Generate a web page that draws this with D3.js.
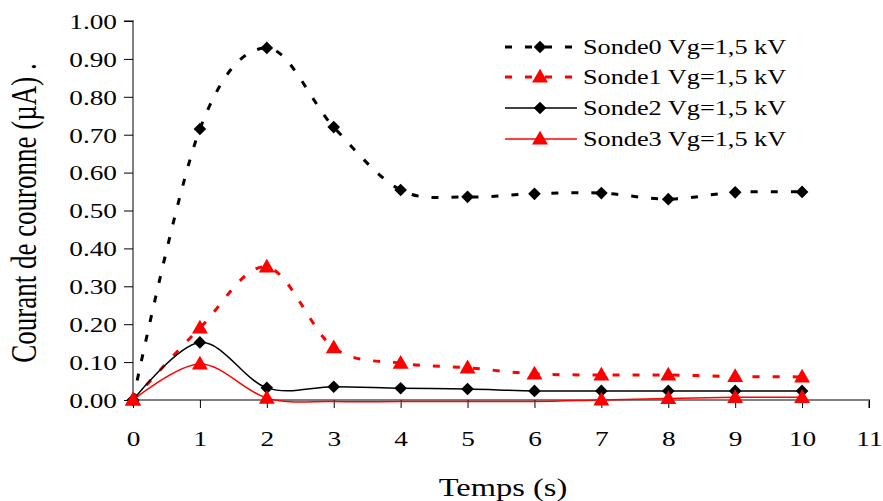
<!DOCTYPE html>
<html>
<head>
<meta charset="utf-8">
<script src="https://cdn.jsdelivr.net/npm/d3@7"></script>
<style>
  html, body { margin: 0; padding: 0; background: #fff; }
  svg { display: block; }
  text { font-family: "Liberation Serif", "Times New Roman", serif; fill: #000; }
</style>
</head>
<body>
<svg id="chart" width="883" height="501"></svg>
<script>
// Time axis (s)
const times = [0, 1, 2, 3, 4, 5, 6, 7, 8, 9, 10];

// Corona current (µA) for each probe
const sonde0 = [0.000, 0.715, 0.929, 0.720, 0.554, 0.536, 0.544, 0.546, 0.530, 0.548, 0.549];
const sonde1 = [0.000, 0.190, 0.351, 0.138, 0.097, 0.085, 0.069, 0.066, 0.066, 0.062, 0.061];
const sonde2 = [0.000, 0.152, 0.032, 0.035, 0.031, 0.029, 0.024, 0.024, 0.024, 0.024, 0.024];
const sonde3 = [0.000, 0.095, 0.005, -0.004, -0.004, -0.004, -0.004, 0.000, 0.004, 0.007, 0.007];

const seriesNames = ["Sonde0 Vg=1,5 kV", "Sonde1 Vg=1,5 kV", "Sonde2 Vg=1,5 kV", "Sonde3 Vg=1,5 kV"];

const xTicks = [0, 1, 2, 3, 4, 5, 6, 7, 8, 9, 10, 11];
const yTicks = [0, 0.1, 0.2, 0.3, 0.4, 0.5, 0.6, 0.7, 0.8, 0.9, 1.0];

const xTitle = "Temps (s)";
const yTitle = "Courant de couronne (µA) .";

const series = [
  { name: seriesNames[0], values: sonde0, color: "#000", dash: "7,13", width: 3, marker: "diamond" },
  { name: seriesNames[1], values: sonde1, color: "#ff0000", dash: "7,13", width: 3, marker: "triangle" },
  { name: seriesNames[2], values: sonde2, color: "#000", dash: null, width: 1.5, marker: "diamond" },
  { name: seriesNames[3], values: sonde3, color: "#ff0000", dash: null, width: 1.5, marker: "triangle" }
];

// The typeface is drawn wide: stretch each label horizontally around its anchor
const TEXT_STRETCH = 1.3;
function stretch(sel, sx, sy) {
  sel.each(function () {
    const t = d3.select(this);
    const tx = +t.attr("x") || 0;
    const ty = +t.attr("y") || 0;
    t.attr("transform", `translate(${tx},${ty}) scale(${sx},${sy}) translate(${-tx},${-ty})`);
  });
}

const svg = d3.select("#chart");

const plot = { left: 133, right: 869, top: 21, bottom: 400 };

const x = d3.scaleLinear().domain([0, 11]).range([plot.left, plot.right]);
const y = d3.scaleLinear().domain([0, 1]).range([plot.bottom, plot.top]);

// Axes
const yAxis = svg.append("g")
  .attr("transform", `translate(${plot.left},0)`)
  .call(d3.axisLeft(y).tickValues(yTicks).tickFormat(d3.format(".2f")).tickSize(9).tickPadding(7));
yAxis.select(".domain").attr("stroke", "#808080").attr("stroke-width", 2).attr("d", `M0,${plot.bottom}V${plot.top}H-9`);
yAxis.selectAll(".tick line").attr("stroke", "#000");
yAxis.selectAll(".tick text")
  .style("font-family", "'Liberation Serif', serif")
  .style("font-size", "21px")
  .attr("dy", "0.35em")
  .call(stretch, TEXT_STRETCH, 1);

const xAxis = svg.append("g")
  .attr("transform", `translate(0,${plot.bottom})`)
  .call(d3.axisBottom(x).tickValues(xTicks).tickFormat(d3.format("d")).tickSize(8).tickPadding(23));
xAxis.select(".domain").attr("stroke", "#808080").attr("stroke-width", 2).attr("d", `M${plot.left},0H${plot.right}V8`);
xAxis.selectAll(".tick line").attr("stroke", "#000");
xAxis.selectAll(".tick text")
  .style("font-family", "'Liberation Serif', serif")
  .style("font-size", "21px")
  .call(stretch, TEXT_STRETCH, 1);

// Axis titles
svg.append("text")
  .attr("x", 503).attr("y", 496)
  .attr("text-anchor", "middle")
  .style("font-size", "25px")
  .text(xTitle)
  .call(stretch, TEXT_STRETCH, 1);

svg.append("text")
  .attr("transform", `translate(36,213) rotate(-90) scale(1,${TEXT_STRETCH})`)
  .attr("text-anchor", "middle")
  .style("font-size", "27px")
  .text(yTitle);

// Smoothed lines
const line = d3.line()
  .x((d, i) => x(times[i]))
  .y(d => y(d))
  .curve(d3.curveCardinal.tension(0));

const diamond = d3.symbol().type(d3.symbolSquare).size(80);
const triangle = d3.symbol().type(d3.symbolTriangle).size(110);

function drawMarker(g, type, color, cx, cy) {
  if (type === "diamond") {
    g.append("path")
      .attr("d", diamond())
      .attr("transform", `translate(${cx},${cy}) rotate(45)`)
      .attr("fill", color);
  } else {
    g.append("path")
      .attr("d", triangle())
      .attr("transform", `translate(${cx},${cy + 1})`)
      .attr("fill", color);
  }
}

series.forEach(s => {
  svg.append("path")
    .datum(s.values)
    .attr("d", line)
    .attr("fill", "none")
    .attr("stroke", s.color)
    .attr("stroke-width", s.width)
    .attr("stroke-dasharray", s.dash);
});

// Markers only for points inside the value axis range
series.forEach(s => {
  const g = svg.append("g");
  s.values.forEach((v, i) => {
    if (v < y.domain()[0] || v > y.domain()[1]) return;
    drawMarker(g, s.marker, s.color, x(times[i]), y(v));
  });
});

// Legend
const legend = svg.append("g");
const legendRowY = [47, 77, 108, 139];
series.forEach((s, i) => {
  const ly = legendRowY[i];
  legend.append("line")
    .attr("x1", 505).attr("x2", 577)
    .attr("y1", ly).attr("y2", ly)
    .attr("stroke", s.color)
    .attr("stroke-width", s.width)
    .attr("stroke-dasharray", s.dash);
  drawMarker(legend, s.marker, s.color, 540, ly);
  legend.append("text")
    .attr("x", 583).attr("y", ly)
    .attr("dy", "0.35em")
    .style("font-size", "21px")
    .text(s.name)
    .call(stretch, 1.25, 1);
});
</script>
</body>
</html>
